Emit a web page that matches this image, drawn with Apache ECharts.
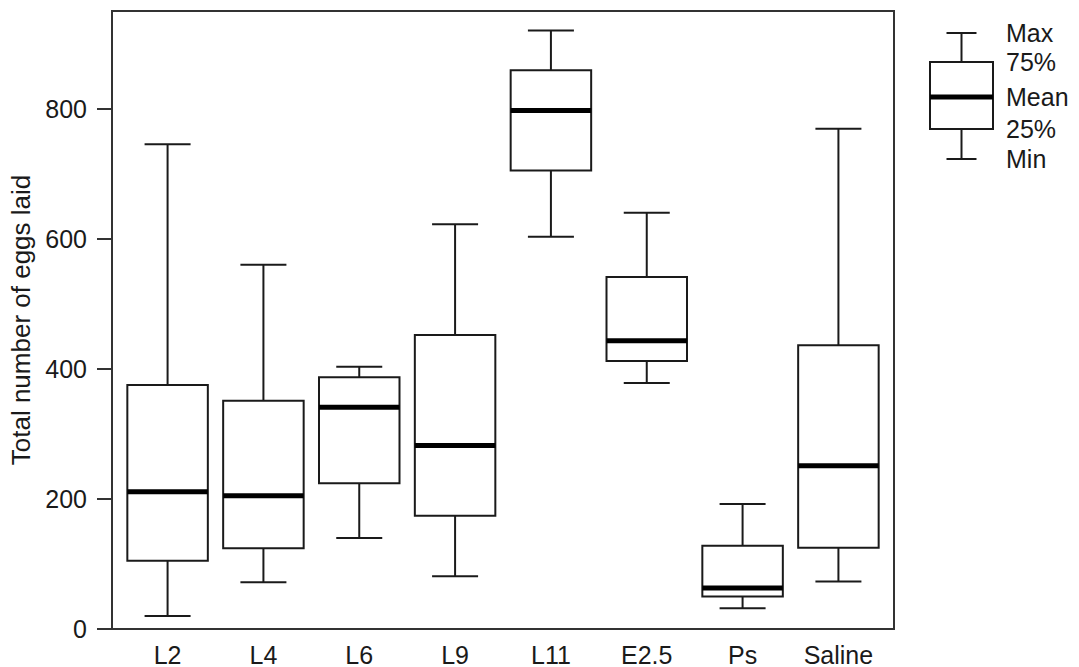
<!DOCTYPE html>
<html><head><meta charset="utf-8">
<script src="https://cdn.jsdelivr.net/npm/echarts@6/dist/echarts.min.js"></script>
<style>html,body{margin:0;padding:0;background:#fff}#c{width:1079px;height:667px}</style>
</head><body><div id="c"></div>
<script>
const categories = ['L2','L4','L6','L9','L11','E2.5','Ps','Saline'];
const minVals  = [20, 72, 140, 81, 603, 378, 32, 73];
const q1Vals   = [105, 124, 224, 174, 705, 412, 50, 125];
const meanVals = [211, 205, 341, 282, 797, 443, 63, 251];
const q3Vals   = [375, 351, 387, 452, 859, 541, 128, 436];
const maxVals  = [745, 560, 403, 622, 920, 640, 192, 769];
const yTicks = [0, 200, 400, 600, 800];
const legendLabels = ['Max', '75%', 'Mean', '25%', 'Min'];

const FONT = "'Liberation Sans', Arial, sans-serif";
const FS = 25;
const positions = categories.map((c, i) => i + 1);
const data = categories.map((c, i) => [positions[i], minVals[i], q1Vals[i], meanVals[i], q3Vals[i], maxVals[i]]);

function renderItem(params, api) {
  const x = api.value(0);
  const pMin = api.coord([x, api.value(1)]);
  const pQ1 = api.coord([x, api.value(2)]);
  const pMean = api.coord([x, api.value(3)]);
  const pQ3 = api.coord([x, api.value(4)]);
  const pMax = api.coord([x, api.value(5)]);
  const hb = api.size([0.42, 0])[0];
  const hc = api.size([0.24, 0])[0];
  const ls = { stroke: '#1a1a1a', lineWidth: 2 };
  return {
    type: 'group',
    children: [
      { type: 'line', shape: { x1: pMin[0], y1: pMin[1], x2: pQ1[0], y2: pQ1[1] }, style: ls },
      { type: 'line', shape: { x1: pQ3[0], y1: pQ3[1], x2: pMax[0], y2: pMax[1] }, style: ls },
      { type: 'line', shape: { x1: pMin[0] - hc, y1: pMin[1], x2: pMin[0] + hc, y2: pMin[1] }, style: ls },
      { type: 'line', shape: { x1: pMax[0] - hc, y1: pMax[1], x2: pMax[0] + hc, y2: pMax[1] }, style: ls },
      { type: 'rect', shape: { x: pQ3[0] - hb, y: pQ3[1], width: 2 * hb, height: pQ1[1] - pQ3[1] }, style: { fill: '#fff', stroke: '#1a1a1a', lineWidth: 2 } },
      { type: 'line', shape: { x1: pMean[0] - hb, y1: pMean[1], x2: pMean[0] + hb, y2: pMean[1] }, style: { stroke: '#000', lineWidth: 5 } }
    ]
  };
}

// legend key glyph (schematic)
const lk = { cx: 961.5, hb: 31.5, hc: 15, yMax: 33, yQ3: 62, yMean: 97, yQ1: 129, yMin: 159 };
const lst = { stroke: '#1a1a1a', lineWidth: 2 };
const legendYs = [lk.yMax, lk.yQ3, lk.yMean, lk.yQ1, lk.yMin];
const graphic = [
  { type: 'line', shape: { x1: lk.cx, y1: lk.yMax, x2: lk.cx, y2: lk.yQ3 }, style: lst },
  { type: 'line', shape: { x1: lk.cx, y1: lk.yQ1, x2: lk.cx, y2: lk.yMin }, style: lst },
  { type: 'line', shape: { x1: lk.cx - lk.hc, y1: lk.yMax, x2: lk.cx + lk.hc, y2: lk.yMax }, style: lst },
  { type: 'line', shape: { x1: lk.cx - lk.hc, y1: lk.yMin, x2: lk.cx + lk.hc, y2: lk.yMin }, style: lst },
  { type: 'rect', shape: { x: lk.cx - lk.hb, y: lk.yQ3, width: 2 * lk.hb, height: lk.yQ1 - lk.yQ3 }, style: { fill: '#fff', stroke: '#1a1a1a', lineWidth: 2 } },
  { type: 'line', shape: { x1: lk.cx - lk.hb, y1: lk.yMean, x2: lk.cx + lk.hb, y2: lk.yMean }, style: { stroke: '#000', lineWidth: 5 } }
].concat(legendLabels.map((t, i) => ({
  type: 'text', x: 1006, y: legendYs[i],
  style: { text: t, fill: '#1a1a1a', font: FS + 'px ' + FONT, textVerticalAlign: 'middle', textAlign: 'left' }
})));

const chart = echarts.init(document.getElementById('c'), null, { renderer: 'svg' });
chart.setOption({
  animation: false,
  backgroundColor: '#fff',
  graphic: graphic,
  grid: { left: 112, right: 185, top: 11, bottom: 38, show: true, borderColor: '#333', borderWidth: 2, backgroundColor: 'transparent', containLabel: false, outerBoundsMode: 'none' },
  xAxis: {
    type: 'value', min: 0.42, max: 8.58,
    axisLine: { show: true, lineStyle: { color: '#333', width: 2 } },
    axisTick: { show: false },
    splitLine: { show: false },
    axisLabel: {
      customValues: positions,
      formatter: v => categories[Math.round(v) - 1] || '',
      color: '#1a1a1a', fontSize: FS, fontFamily: FONT, margin: 13
    }
  },
  yAxis: {
    type: 'value', min: 0, max: 950,
    name: 'Total number of eggs laid', nameLocation: 'middle', nameGap: 76, nameRotate: 90,
    nameTextStyle: { color: '#1a1a1a', fontSize: 26, fontFamily: FONT },
    axisLine: { show: true, lineStyle: { color: '#333', width: 2 } },
    axisTick: { show: true, inside: false, length: 15, customValues: yTicks, lineStyle: { color: '#333', width: 2 } },
    splitLine: { show: false },
    axisLabel: { customValues: yTicks, color: '#1a1a1a', fontSize: FS, fontFamily: FONT, margin: 25 }
  },
  series: [{
    type: 'custom', renderItem: renderItem, data: data,
    encode: { x: 0, y: [1, 2, 3, 4, 5] }, clip: false
  }]
});
</script></body></html>
